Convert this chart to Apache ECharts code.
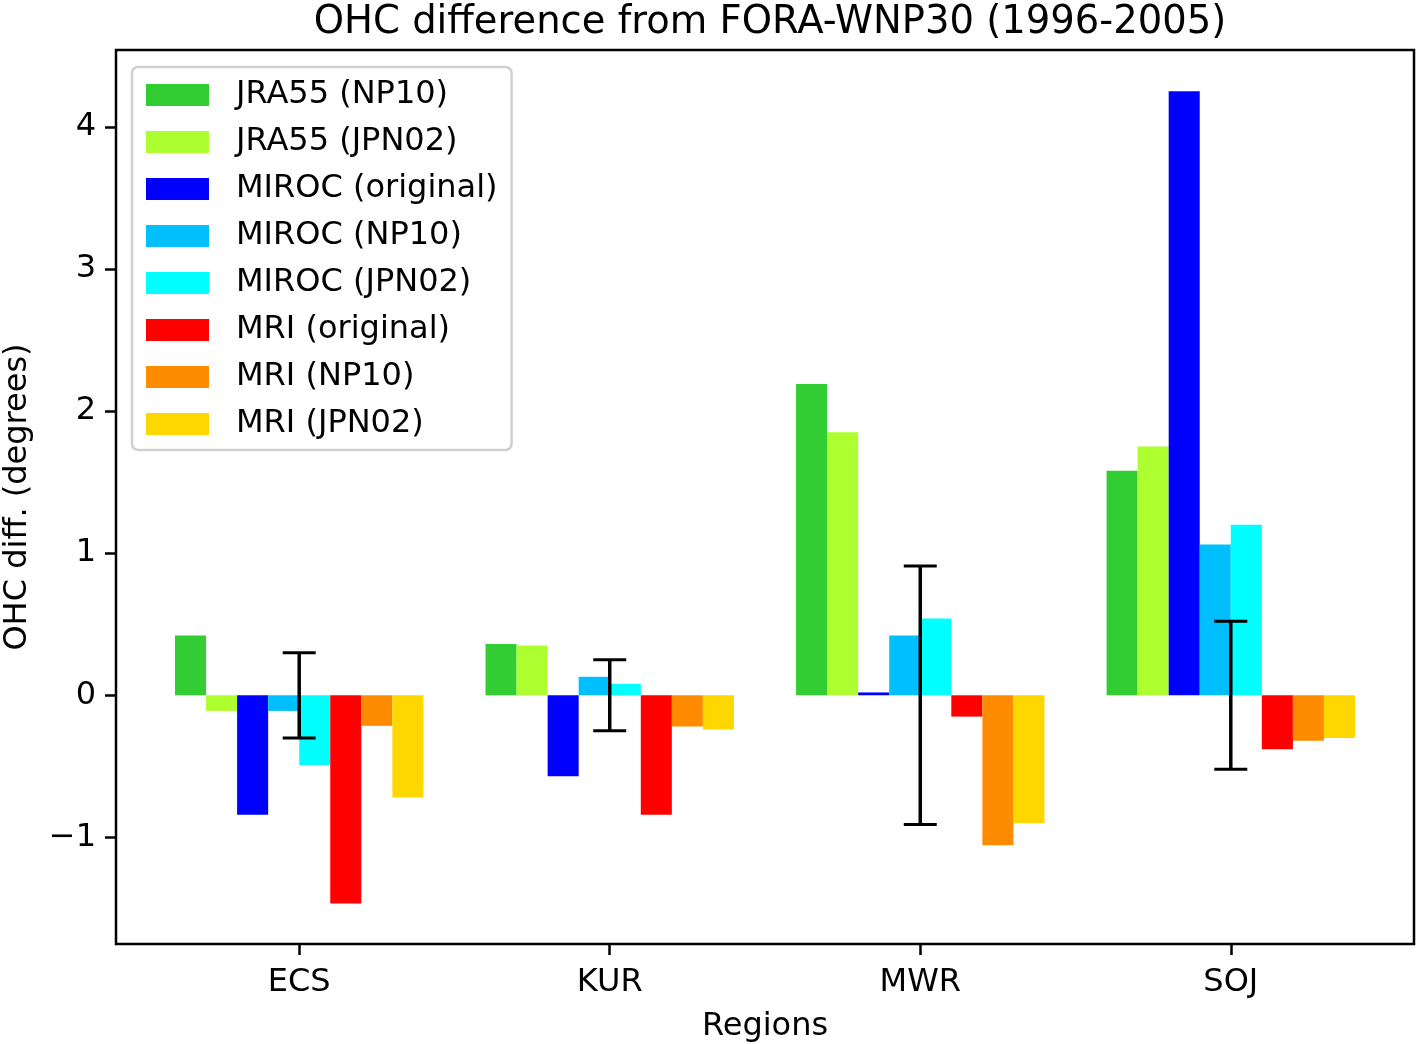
<!DOCTYPE html>
<html>
<head>
<meta charset="utf-8">
<script src="https://cdn.jsdelivr.net/npm/echarts@6/dist/echarts.min.js"></script>
<style>
html,body{margin:0;padding:0;background:#fff;}
#chart{width:1418px;height:1044px;}
</style>
</head>
<body>
<div id="chart"></div>
<script>
// ---- data ----
var regions = ['ECS', 'KUR', 'MWR', 'SOJ'];
var seriesNames = ['JRA55 (NP10)', 'JRA55 (JPN02)', 'MIROC (original)', 'MIROC (NP10)', 'MIROC (JPN02)', 'MRI (original)', 'MRI (NP10)', 'MRI (JPN02)'];
var jra55NP10    = [0.42, 0.36, 2.19, 1.58];
var jra55JPN02   = [-0.11, 0.35, 1.85, 1.75];
var mirocOrig    = [-0.84, -0.57, 0.02, 4.25];
var mirocNP10    = [-0.11, 0.13, 0.42, 1.06];
var mirocJPN02   = [-0.49, 0.08, 0.54, 1.20];
var mriOrig      = [-1.465, -0.84, -0.15, -0.38];
var mriNP10      = [-0.215, -0.22, -1.055, -0.32];
var mriJPN02     = [-0.72, -0.24, -0.90, -0.30];
var errors       = [0.30, 0.25, 0.91, 0.52];
var yTicks = [-1, 0, 1, 2, 3, 4];
var colors = ['#32CD32', '#ADFF2F', '#0000FF', '#00BFFF', '#00FFFF', '#FF0000', '#FF8C00', '#FFD700'];

var allValues = [jra55NP10, jra55JPN02, mirocOrig, mirocNP10, mirocJPN02, mriOrig, mriNP10, mriJPN02];

var FONT = 'DejaVu Sans';
var chart = echarts.init(document.getElementById('chart'), null, {renderer: 'canvas'});

var series = allValues.map(function (vals, k) {
  return {
    name: seriesNames[k],
    type: 'bar',
    data: vals.map(function (v, i) { return [i, v]; }),
    barWidth: '10%',
    barGap: '0%',
    itemStyle: {color: colors[k]},
    emphasis: {disabled: true},
    z: 2
  };
});

series.push({
  name: 'err',
  type: 'custom',
  z: 10,
  data: errors.map(function (e, i) { return [i, e]; }),
  renderItem: function (params, api) {
    var x = api.value(0), e = api.value(1);
    var top = api.coord([x, e]);
    var bot = api.coord([x, -e]);
    var hw = 16.5;
    var st = {stroke: '#000', lineWidth: 3.5};
    var stc = {stroke: '#000', lineWidth: 3};
    return {
      type: 'group',
      children: [
        {type: 'line', shape: {x1: top[0], y1: top[1], x2: bot[0], y2: bot[1]}, style: st},
        {type: 'line', shape: {x1: top[0] - hw, y1: top[1], x2: top[0] + hw, y2: top[1]}, style: stc},
        {type: 'line', shape: {x1: bot[0] - hw, y1: bot[1], x2: bot[0] + hw, y2: bot[1]}, style: stc}
      ]
    };
  }
});

var option = {
  animation: false,
  backgroundColor: '#fff',
  title: {
    text: 'OHC difference from FORA-WNP30 (1996-2005)',
    left: 765,
    top: -2,
    textAlign: 'center',
    textStyle: {fontFamily: FONT, fontSize: 38.5, fontWeight: 'normal', color: '#000'}
  },
  legend: {
    data: seriesNames,
    orient: 'vertical',
    left: 132,
    top: 67,
    padding: [12, 14, 10, 14],
    itemWidth: 63,
    itemHeight: 22,
    itemGap: 15,
    icon: 'rect',
    borderColor: '#d0d0d0',
    borderWidth: 2.5,
    borderRadius: 6,
    backgroundColor: 'rgba(255,255,255,0.8)',
    textStyle: {fontFamily: FONT, fontSize: 32, color: '#000', lineHeight: 32, padding: [0, 0, 0, 22]}
  },
  grid: {
    left: 116, top: 50, width: 1298, height: 894,
    show: true, borderColor: '#000', borderWidth: 2.5, backgroundColor: 'transparent',
    containLabel: false, outerBoundsMode: 'none'
  },
  xAxis: {
    type: 'value',
    min: -0.59, max: 3.59,
    name: 'Regions',
    nameLocation: 'middle',
    nameGap: 67,
    nameTextStyle: {fontFamily: FONT, fontSize: 32, color: '#000', verticalAlign: 'top'},
    axisLine: {show: false, onZero: false},
    splitLine: {show: false},
    axisTick: {show: true, inside: false, length: 11, customValues: [0, 1, 2, 3], lineStyle: {color: '#000', width: 2.5}},
    axisLabel: {
      customValues: [0, 1, 2, 3],
      formatter: function (v) { return regions[Math.round(v)]; },
      fontFamily: FONT, fontSize: 32, color: '#000', margin: 23
    }
  },
  yAxis: {
    type: 'value',
    min: -1.75, max: 4.54,
    name: 'OHC diff. (degrees)',
    nameLocation: 'middle',
    nameGap: 82,
    nameTextStyle: {fontFamily: FONT, fontSize: 32, color: '#000'},
    axisLine: {show: false, onZero: false},
    splitLine: {show: false},
    axisTick: {show: true, inside: false, length: 11, customValues: yTicks, lineStyle: {color: '#000', width: 2.5}},
    axisLabel: {
      customValues: yTicks,
      formatter: function (v) { return v < 0 ? '\u2212' + Math.abs(v) : String(v); },
      fontFamily: FONT, fontSize: 32, color: '#000', margin: 20
    }
  },
  tooltip: {show: false},
  series: series
};
chart.setOption(option);
</script>
</body>
</html>
